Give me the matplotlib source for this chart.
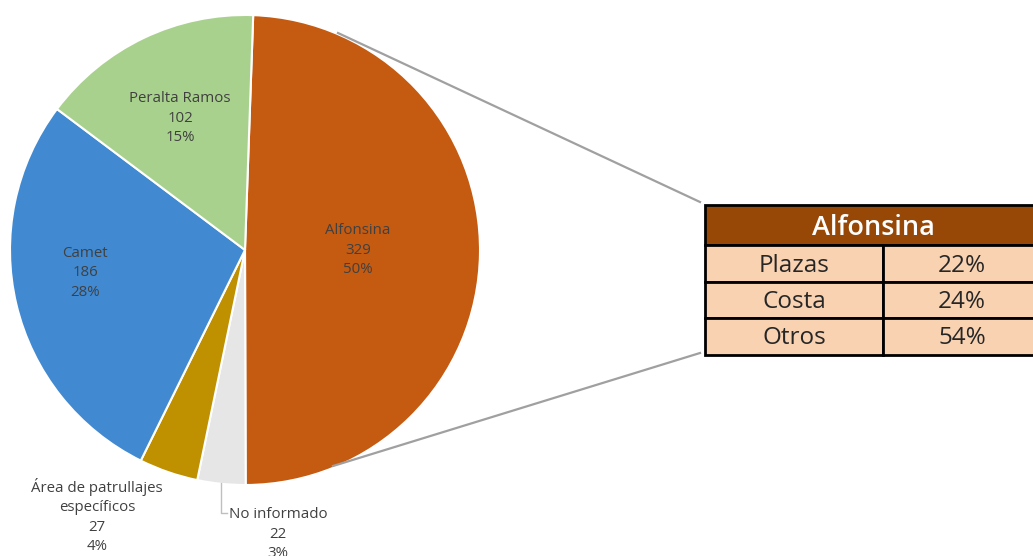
import matplotlib.pyplot as plt
from matplotlib.patches import Rectangle

plt.rcParams['font.family'] = ['Open Sans', 'DejaVu Sans']

# datos
zonas = ["Alfonsina", "No informado", "Área de patrullajes\nespecíficos", "Camet", "Peralta Ramos"]
casos = [329, 22, 27, 186, 102]
porcentajes = ["50%", "3%", "4%", "28%", "15%"]
colores = ["#C55A11", "#E7E6E6", "#BF9000", "#418AD2", "#A9D18E"]

detalle_titulo = "Alfonsina"
detalle_cat = ["Plazas", "Costa", "Otros"]
detalle_pct = ["22%", "24%", "54%"]

W, H = 1033, 556
fig = plt.figure(figsize=(W / 100, H / 100), dpi=100)
ax = fig.add_axes([0, 0, 1, 1])

def py(y):
    # coordenadas de pixel (y hacia abajo) -> datos
    return H - y

cx, cy, r = 245, py(250), 235
ax.pie(casos, colors=colores, startangle=88, counterclock=False,
       center=(cx, cy), radius=r, frame=True,
       wedgeprops=dict(edgecolor='white', linewidth=1.5))
ax.set_xlim(0, W)
ax.set_ylim(0, H)
ax.set_aspect('equal')
ax.axis('off')

# etiquetas
pos = [(358, 250), (278, 534), (97, 516), (85, 273), (180, 118)]
for z, c, p, (x, y) in zip(zonas, casos, porcentajes, pos):
    ax.text(x, py(y), f"{z}\n{c}\n{p}", ha='center', va='center',
            fontsize=10.8, color='#404040', linespacing=1.42)

# linea guia "No informado"
ax.plot([221, 221, 227], [py(483), py(513), py(513)], color='#BFBFBF', lw=1)

# lineas de conexion al cuadro
ax.plot([338, 700], [py(33), py(202)], color='#A0A0A0', lw=1.6)
ax.plot([333, 700], [py(466), py(353)], color='#A0A0A0', lw=1.6)

# cuadro de detalle
x0, x1, xm = 705, 1040, 883
ytop = 205
filas = [245, 282, 318, 355]
ax.add_patch(Rectangle((x0, py(filas[0])), x1 - x0, filas[0] - ytop,
                       facecolor='#974706', edgecolor='black', lw=2, zorder=3))
ax.text((x0 + 1033) / 2 + 4, py((ytop + filas[0]) / 2 + 3), detalle_titulo,
        ha='center', va='center', fontsize=19.5, fontweight='semibold', color='white', zorder=4)
for i, (cat, pct) in enumerate(zip(detalle_cat, detalle_pct)):
    ya, yb = filas[i], filas[i + 1]
    for xa, xb in [(x0, xm), (xm, x1)]:
        ax.add_patch(Rectangle((xa, py(yb)), xb - xa, yb - ya,
                               facecolor='#F9D2B1', edgecolor='black', lw=2, zorder=3))
    ax.text((x0 + xm) / 2, py((ya + yb) / 2 + 2), cat, ha='center', va='center',
            fontsize=17.5, color='#262626', zorder=4)
    ax.text((xm + 1033) / 2 + 4, py((ya + yb) / 2 + 2), pct, ha='center', va='center',
            fontsize=17.5, color='#262626', zorder=4)

plt.savefig("out.png", dpi=100)
